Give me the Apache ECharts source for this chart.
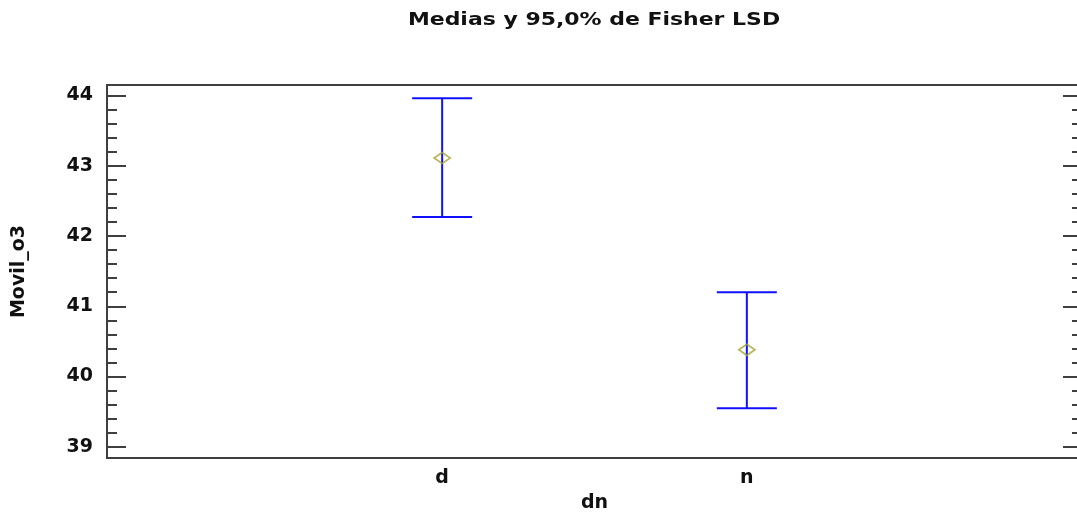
<!DOCTYPE html>
<html>
<head>
<meta charset="utf-8">
<script src="https://cdn.jsdelivr.net/npm/echarts@6/dist/echarts.min.js"></script>
<style>
  html, body { margin: 0; padding: 0; background: #fff; }
  #chart { width: 1077px; height: 514px; }
</style>
</head>
<body>
<div id="chart"></div>
<script>
// Group levels of factor "dn"
const categories = ['d', 'n'];
// Group means of Movil_o3 and their 95% Fisher LSD interval limits
const means = [43.11, 40.38];
const lowerLimits = [42.27, 39.55];
const upperLimits = [43.96, 41.20];
// Labelled ticks on the value axis
const yTicks = [39, 40, 41, 42, 43, 44];

// Minor ticks: four between each pair of labelled ticks
const yMinor = [];
for (let i = 0; i < yTicks.length - 1; i++) {
  const step = (yTicks[i + 1] - yTicks[i]) / 5;
  for (let k = 1; k < 5; k++) yMinor.push(+(yTicks[i] + k * step).toFixed(4));
}

const Y_MIN = 38.84, Y_MAX = 44.15;
const axisColor = '#3f3f3f';
const labelFont = { fontFamily: 'DejaVu Sans', fontWeight: 'bold', fontSize: 19, color: '#111' };

// One value axis per tick layer; only the first one carries labels and the name
function yAxisDef(position, values, len, withLabels) {
  return {
    type: 'value', position: position, offset: 0, min: Y_MIN, max: Y_MAX,
    splitLine: { show: false },
    axisLine: { show: false },
    axisTick: len > 0
      ? { show: true, inside: true, length: len, customValues: values,
          lineStyle: { color: axisColor, width: 2 } }
      : { show: false },
    axisLabel: withLabels
      ? Object.assign({ show: true, customValues: values, margin: 14, formatter: v => String(Math.round(v)) }, labelFont)
      : { show: false },
    name: withLabels ? 'Movil_o3' : '',
    nameLocation: 'middle', nameGap: 78, nameRotate: 90,
    nameTextStyle: labelFont
  };
}

const catX = categories.map((c, i) => i + 1);
const barData = catX.map((x, i) => [x, lowerLimits[i], upperLimits[i]]);
const meanData = catX.map((x, i) => [x, means[i]]);

const chart = echarts.init(document.getElementById('chart'), null, { renderer: 'canvas' });
chart.setOption({
  animation: false,
  backgroundColor: '#ffffff',
  // Chart title, drawn as a widened text element
  graphic: [{
    type: 'text',
    x: 594, y: 20, scaleX: 1.22, scaleY: 1,
    style: {
      text: 'Medias y 95,0% de Fisher LSD',
      fontFamily: 'DejaVu Sans', fontWeight: 'bold', fontSize: 18, fill: '#111',
      align: 'center', verticalAlign: 'middle'
    }
  }],
  grid: {
    left: 107, top: 85, width: 975, height: 373,
    containLabel: false, outerBoundsMode: 'none',
    show: true, borderColor: axisColor, borderWidth: 2, backgroundColor: 'transparent'
  },
  xAxis: {
    type: 'value', min: -0.1, max: 3.1,
    splitLine: { show: false }, axisLine: { show: false }, axisTick: { show: false },
    axisLabel: Object.assign({ customValues: catX, margin: 11, formatter: v => categories[Math.round(v) - 1] || '' }, labelFont),
    name: 'dn', nameLocation: 'middle', nameGap: 36, nameTextStyle: labelFont
  },
  yAxis: [
    yAxisDef('left', yTicks, 0, true),
    yAxisDef('left', yTicks, 19, false),
    yAxisDef('left', yMinor, 10, false),
    yAxisDef('right', yTicks, 19, false),
    yAxisDef('right', yMinor, 10, false)
  ],
  series: [
    {
      type: 'custom',
      data: barData,
      encode: { x: 0, y: [1, 2] },
      renderItem: function (params, api) {
        const x = api.value(0);
        const lo = api.coord([x, api.value(1)]);
        const hi = api.coord([x, api.value(2)]);
        const half = 30;
        const style = { stroke: '#1010ff', lineWidth: 2 };
        return {
          type: 'group',
          children: [
            { type: 'line', shape: { x1: lo[0], y1: lo[1], x2: hi[0], y2: hi[1] }, style: style },
            { type: 'line', shape: { x1: hi[0] - half, y1: hi[1], x2: hi[0] + half, y2: hi[1] }, style: style },
            { type: 'line', shape: { x1: lo[0] - half, y1: lo[1], x2: lo[0] + half, y2: lo[1] }, style: style }
          ]
        };
      },
      z: 2
    },
    {
      type: 'scatter',
      data: meanData,
      symbol: 'diamond',
      symbolSize: [16, 11],
      itemStyle: { color: 'rgba(0,0,0,0)', borderColor: '#a3a330', borderWidth: 1.8 },
      z: 3
    }
  ]
});
</script>
</body>
</html>
